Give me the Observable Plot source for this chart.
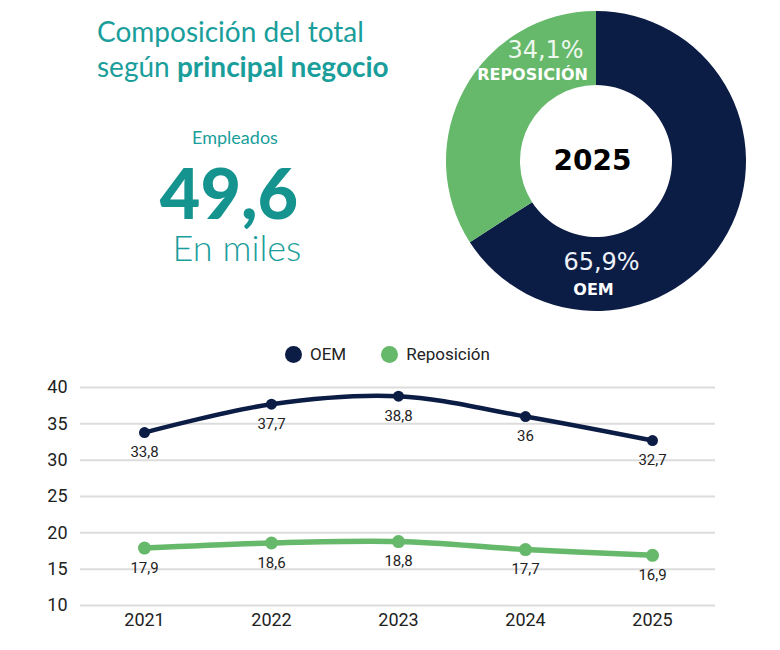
<!DOCTYPE html>
<html><head><meta charset="utf-8">
<script src="https://cdn.jsdelivr.net/npm/d3@7"></script>
<script src="https://cdn.jsdelivr.net/npm/@observablehq/plot@0.6"></script>
<style>
body{margin:0;background:#fff;width:780px;height:650px;position:relative;overflow:hidden;font-family:Lato,sans-serif}
.abs{position:absolute}
#legend{display:flex;align-items:center;font-family:Roboto,sans-serif;font-size:17px;color:#222}
#legend .dot{display:inline-block;width:17px;height:17px;border-radius:50%;margin-right:8px}
#legend .item{display:flex;align-items:center;margin-right:35px}
</style></head><body>
<div class="abs" id="title" style="left:97px;top:14px;font-size:28px;line-height:35px;color:#1a9e9b"></div>
<div class="abs" id="kpiLabel" style="left:135px;width:200px;top:126px;text-align:center;font-size:18px;color:#1a9e9b"></div>
<div class="abs" id="kpiValue" style="left:129px;width:200px;top:158px;text-align:center;font-size:70px;font-weight:900;color:#14938f;line-height:68px"></div>
<div class="abs" id="kpiUnit" style="left:137px;width:200px;top:227px;text-align:center;font-size:36px;font-weight:300;color:#1a9e9b;line-height:40px"></div>
<div id="donut" class="abs" style="left:440px;top:5px"></div>
<div id="legend" class="abs" style="left:285px;top:344px"></div>
<div id="chart" class="abs" style="left:0;top:370px"></div>
<script>
// ---- data ----
const titleLine1 = "Composición del total";
const titleLine2a = "según ";
const titleLine2b = "principal negocio";
const kpiLabel = "Empleados";
const kpiValue = "49,6";
const kpiUnit = "En miles";

const donutYear = "2025";
const shareNames = ["OEM", "REPOSICIÓN"];
const shareValues = [65.9, 34.1];

const years = [2021, 2022, 2023, 2024, 2025];
const seriesNames = ["OEM", "Reposición"];
const oem = [33.8, 37.7, 38.8, 36, 32.7];
const reposicion = [17.9, 18.6, 18.8, 17.7, 16.9];
const yTicks = [10, 15, 20, 25, 30, 35, 40];

const navy = "#0b1c45";
const green = "#66b96a";
const fmt = v => String(v).replace(".", ",");

// ---- header texts ----
document.getElementById("title").innerHTML = `${titleLine1}<br>${titleLine2a}<b>${titleLine2b}</b>`;
document.getElementById("kpiLabel").textContent = kpiLabel;
document.getElementById("kpiValue").textContent = kpiValue;
document.getElementById("kpiUnit").textContent = kpiUnit;

// ---- donut ----
const pieData = d3.pie().sort(null).value(d => d.value)(shareNames.map((n, i) => ({name: n, value: shareValues[i]})));
const arc = d3.arc().innerRadius(76).outerRadius(150);
const donut = Plot.plot({
  width: 312, height: 312, margin: 0,
  style: {fontFamily: "DejaVu Sans, sans-serif", background: "transparent"},
  marks: [
    (index, scales, values, dims) => {
      const g = d3.create("svg:g").attr("transform", `translate(${dims.width / 2},${dims.height / 2})`);
      const color = d3.scaleOrdinal(shareNames, [navy, green]);
      g.selectAll("path").data(pieData).join("path")
        .attr("d", arc).attr("fill", d => color(d.data.name));
      return g.node();
    },
    Plot.text([donutYear], {frameAnchor: "middle", text: d => d, dx: -4, fontSize: 28, fontWeight: "bold", fill: "#000"}),
    Plot.text([shareValues[1]], {frameAnchor: "middle", text: d => fmt(d) + "%", dx: -51, dy: -111, fontSize: 24, fill: "#eef7ee"}),
    Plot.text([shareNames[1]], {frameAnchor: "middle", text: d => d, dx: -64, dy: -87, fontSize: 16, fontWeight: "bold", fill: "#fff"}),
    Plot.text([shareValues[0]], {frameAnchor: "middle", text: d => fmt(d) + "%", dx: 5, dy: 101, fontSize: 24, fill: "#eef2f8"}),
    Plot.text([shareNames[0]], {frameAnchor: "middle", text: d => d, dx: -3, dy: 128, fontSize: 16, fontWeight: "bold", fill: "#fff"})
  ]
});
document.getElementById("donut").appendChild(donut);

// ---- legend ----
const legend = document.getElementById("legend");
seriesNames.forEach((n, i) => {
  const it = document.createElement("span");
  it.className = "item";
  it.innerHTML = `<span class="dot" style="background:${[navy, green][i]}"></span>${n}`;
  legend.appendChild(it);
});

// ---- line chart ----
const rows = years.flatMap((y, i) => [
  {year: y, serie: seriesNames[0], v: oem[i]},
  {year: y, serie: seriesNames[1], v: reposicion[i]}
]);
const oemRows = rows.filter(d => d.serie === seriesNames[0]);
const repRows = rows.filter(d => d.serie === seriesNames[1]);
const chart = Plot.plot({
  width: 780, height: 270,
  marginLeft: 80, marginRight: 65, marginTop: 17, marginBottom: 35,
  x: {type: "point", domain: years, padding: 0.5, label: null, tickSize: 0, tickPadding: 8, tickFormat: d => String(d)},
  y: {domain: [10, 40], ticks: yTicks, label: null, tickSize: 0, tickPadding: 13},
  color: {domain: seriesNames, range: [navy, green]},
  style: {fontFamily: "Roboto, sans-serif", fontSize: "18px", color: "#222", background: "transparent"},
  marks: [
    Plot.gridY(yTicks, {stroke: "#dcdcdc", strokeOpacity: 1, strokeWidth: 2}),
    Plot.line(oemRows, {x: "year", y: "v", stroke: "serie", curve: "catmull-rom", strokeWidth: 4.5}),
    Plot.line(repRows, {x: "year", y: "v", stroke: "serie", curve: "catmull-rom", strokeWidth: 5.5}),
    Plot.dot(oemRows, {x: "year", y: "v", fill: "serie", r: 5.5}),
    Plot.dot(repRows, {x: "year", y: "v", fill: "serie", r: 6.5}),
    Plot.text(rows, {x: "year", y: "v", text: d => fmt(d.v), dy: 20, fontSize: 15, fill: "#222"})
  ]
});
document.getElementById("chart").appendChild(chart);
</script>
</body></html>
